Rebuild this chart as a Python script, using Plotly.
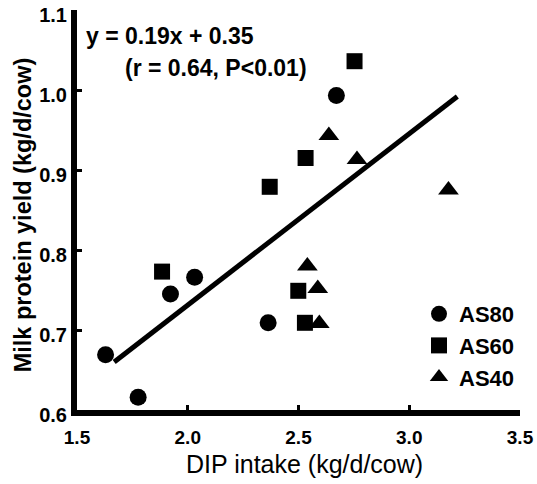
import plotly.graph_objects as go

as80_x = [1.629, 1.776, 1.922, 2.031, 2.363, 2.671]
as80_y = [0.669, 0.616, 0.745, 0.766, 0.709, 0.993]
as60_x = [1.884, 2.370, 2.532, 2.753, 2.499, 2.529]
as60_y = [0.773, 0.879, 0.915, 1.036, 0.749, 0.709]
as40_x = [2.540, 2.587, 2.594, 2.637, 2.764, 3.177]
as40_y = [0.780, 0.752, 0.708, 0.943, 0.913, 0.875]
line_x = [1.668, 3.217]
line_y = [0.660, 0.992]

x_ticks = [1.5, 2.0, 2.5, 3.0, 3.5]
y_ticks = [0.6, 0.7, 0.8, 0.9, 1.0, 1.1]

FONT = "Liberation Sans, Arial, sans-serif"

fig = go.Figure()
fig.add_trace(go.Scatter(x=line_x, y=line_y, mode="lines",
                         line=dict(color="black", width=5), showlegend=False))
fig.add_trace(go.Scatter(x=as80_x, y=as80_y, mode="markers", name="AS80",
                         marker=dict(symbol="circle", size=17, color="black")))
fig.add_trace(go.Scatter(x=as60_x, y=as60_y, mode="markers", name="AS60",
                         marker=dict(symbol="square", size=16, color="black")))
fig.add_trace(go.Scatter(x=as40_x, y=as40_y, mode="markers", name="AS40",
                         marker=dict(symbol="triangle-up", size=18, color="black")))

fig.update_layout(
    width=537, height=484,
    margin=dict(l=77, r=17, t=10, b=74, autoexpand=False),
    paper_bgcolor="white", plot_bgcolor="white",
    font=dict(family=FONT, color="black"),
    showlegend=True,
    legend=dict(x=0.772, y=0.2925, xanchor="left", yanchor="top",
                font=dict(size=22, family=FONT, weight="bold"),
                bgcolor="rgba(0,0,0,0)", tracegroupgap=0, itemsizing="trace"),
    xaxis=dict(range=[1.5, 3.5], tickvals=x_ticks,
               ticktext=[f"{v:.1f}" for v in x_ticks],
               showgrid=False, zeroline=False, showline=True, automargin=False,
               linecolor="black", linewidth=6, ticks="inside", ticklen=5,
               tickwidth=3, tickcolor="black", ticklabeloverflow="allow",
               ticklabelstandoff=5,
               tickfont=dict(size=19, family=FONT, weight="bold")),
    yaxis=dict(range=[0.6, 1.1], tickvals=y_ticks,
               ticktext=[f"{v:.1f}" for v in y_ticks],
               showgrid=False, zeroline=False, showline=True, automargin=False,
               linecolor="black", linewidth=6, ticks="inside", ticklen=5,
               tickwidth=3, tickcolor="black", ticklabeloverflow="allow",
               ticklabelstandoff=0, ticklabelshift=5,
               tickfont=dict(size=20, family=FONT, weight="bold")),
    annotations=[
        dict(x=0.016, y=0.935, xref="paper", yref="paper", xanchor="left", yanchor="middle",
             text="y = 0.19x + 0.35", showarrow=False,
             font=dict(size=23, family=FONT, weight="bold")),
        dict(x=0.104, y=0.855, xref="paper", yref="paper", xanchor="left", yanchor="middle",
             text="(r = 0.64, P&lt;0.01)", showarrow=False,
             font=dict(size=23, family=FONT, weight="bold")),
        dict(x=0.514, y=-0.135, xref="paper", yref="paper", xanchor="center", yanchor="middle",
             text="DIP intake (kg/d/cow)", showarrow=False,
             font=dict(size=25, family=FONT)),
        dict(x=-0.122, y=0.489, xref="paper", yref="paper", xanchor="center", yanchor="middle",
             text="Milk protein yield (kg/d/cow)", showarrow=False, textangle=-90,
             font=dict(size=23.5, family=FONT, weight="bold")),
    ],
)

fig.write_html("out.html", config={"displayModeBar": False},
               post_script="document.body.style.margin='0';")
